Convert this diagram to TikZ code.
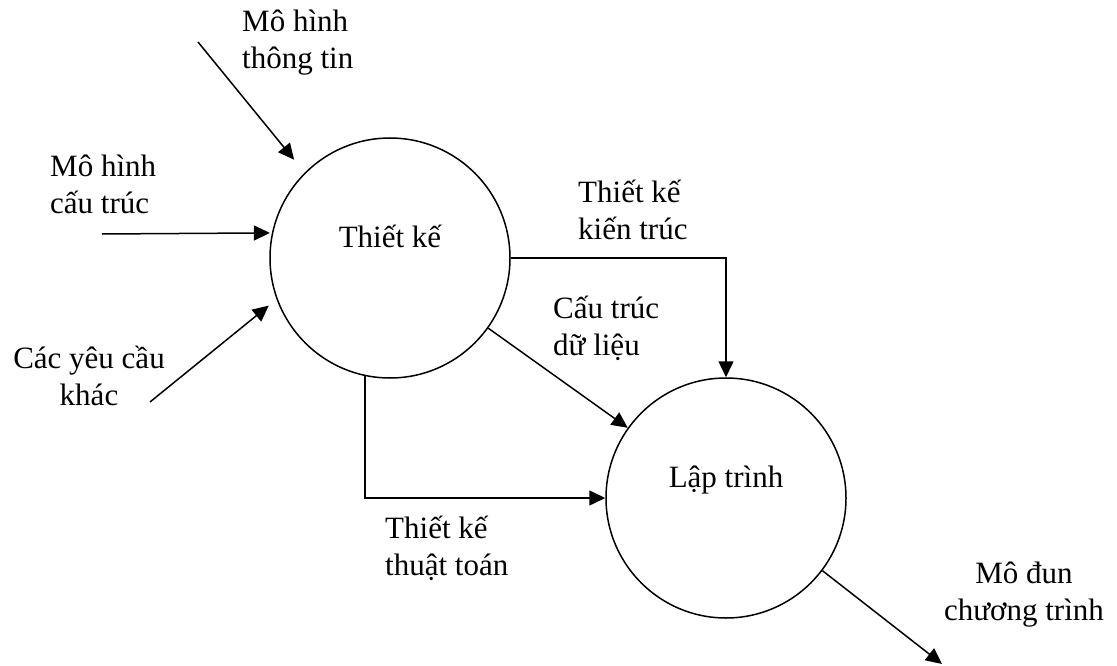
\documentclass[tikz,border=0pt]{standalone}
\usepackage{fontspec}
\setmainfont{Liberation Serif}
\usetikzlibrary{arrows.meta}
\begin{document}
\begin{tikzpicture}[x=1pt,y=-1pt,
  lbl/.style={font=\fontsize{31}{37}\selectfont, inner sep=0pt},
  proc/.style={circle, draw, line width=1.5pt, minimum size=240pt, inner sep=0pt,
    text height=22pt, text depth=44pt, font=\fontsize{31}{37}\selectfont},
  flow/.style={line width=1.5pt, -{Triangle[length=16pt,width=15pt]}},
  plain/.style={line width=1.5pt}]
\useasboundingbox (0,0) rectangle (1117,666);
\node[proc] (tk) at (390,258) {Thiết kế};
\node[proc] (lt) at (726,498) {Lập trình};
% labels
\node[lbl, align=left, anchor=base west] (ttl) at (242,69) {Mô hình\\thông tin};
\node[lbl, align=left, anchor=base west] (ctl) at (50,213) {Mô hình\\cấu trúc};
\node[lbl, align=center, anchor=base] (ycl) at (89,405) {Các yêu cầu\\khác};
\node[lbl, align=left, anchor=base west] (ktl) at (578,239) {Thiết kế\\kiến trúc};
\node[lbl, align=left, anchor=base west] (dll) at (553,355) {Cấu trúc\\dữ liệu};
\node[lbl, align=left, anchor=base west] (tatl) at (385,575) {Thiết kế\\thuật toán};
\node[lbl, align=center, anchor=base] (mdl) at (1024,620) {Mô đun\\chương trình};
% free ends
\coordinate (ttS) at (198,42);
\coordinate (ctS) at (102,234);
\coordinate (ycS) at (150,402);
\coordinate (mdE) at (942,664);
% connectors
\draw[flow, shorten >=16.6pt] (ttS) -- (tk.135.5);
\draw[flow, shorten >=2pt] (ctS) -- (tk.168.5);
\draw[flow, shorten >=10pt] (ycS) -- (tk.200.9);
\draw[flow] (tk.east) -| (lt.north);
\draw[flow] (tk) -- (lt);
\draw[flow] (tk.258.5) |- (lt.west);
\draw[flow] (lt.-37.5) -- (mdE);
\end{tikzpicture}
\end{document}
